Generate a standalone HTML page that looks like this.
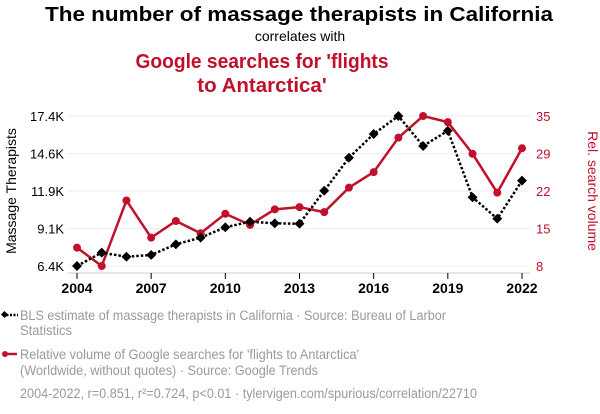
<!DOCTYPE html>
<html><head><meta charset="utf-8"><style>
body{margin:0;background:#fff;}
svg{display:block;font-family:"Liberation Sans",Arial,sans-serif;}
</style></head><body>
<svg id="chart" width="600" height="414" viewBox="0 0 600 414">
<text x="299" y="21" text-anchor="middle" font-size="20.5" font-weight="bold" textLength="508" lengthAdjust="spacingAndGlyphs">The number of massage therapists in California</text>
<text x="300" y="41" text-anchor="middle" font-size="14">correlates with</text>
<text x="262" y="68" text-anchor="middle" font-size="20.5" font-weight="bold" fill="#c0102c" textLength="253" lengthAdjust="spacingAndGlyphs">Google searches for 'flights</text>
<text x="262" y="92" text-anchor="middle" font-size="20.5" font-weight="bold" fill="#c0102c">to Antarctica'</text>
<g id="grid"></g><g id="axes"></g><g id="series"></g>
<text transform="translate(16,191) rotate(-90)" text-anchor="middle" font-size="14">Massage Therapists</text>
<text transform="translate(588,191) rotate(90)" text-anchor="middle" font-size="14" fill="#c0102c">Rel. search volume</text>
<g>
<line x1="3" y1="315" x2="18" y2="315" stroke="#000" stroke-width="2.5" stroke-dasharray="2,1.5"/>
<rect x="2" y="312" width="5" height="5" transform="rotate(45 4.5 314.5)" fill="#000"/>
<text x="20" y="320" font-size="13.5" fill="#9a9a9a" textLength="426" lengthAdjust="spacingAndGlyphs">BLS estimate of massage therapists in California · Source: Bureau of Larbor</text>
<text x="20" y="335" font-size="13.5" fill="#9a9a9a" textLength="52" lengthAdjust="spacingAndGlyphs">Statistics</text>
</g>
<g>
<line x1="3" y1="354" x2="17" y2="354" stroke="#c0102c" stroke-width="2.5"/>
<circle cx="5" cy="354" r="3" fill="#c0102c"/>
<text x="20" y="359" font-size="13.5" fill="#9a9a9a" textLength="339" lengthAdjust="spacingAndGlyphs">Relative volume of Google searches for 'flights to Antarctica'</text>
<text x="20" y="375" font-size="13.5" fill="#9a9a9a" textLength="298" lengthAdjust="spacingAndGlyphs">(Worldwide, without quotes) · Source: Google Trends</text>
</g>
<text x="20" y="398" font-size="13.5" fill="#9a9a9a" textLength="457" lengthAdjust="spacingAndGlyphs">2004-2022, r=0.851, r²=0.724, p&lt;0.01 · tylervigen.com/spurious/correlation/22710</text>
</svg>
<script>
const years=[2004,2005,2006,2007,2008,2009,2010,2011,2012,2013,2014,2015,2016,2017,2018,2019,2020,2021,2022];
const therapists=[6400,7380,7080,7210,7990,8480,9240,9650,9530,9500,11920,14340,16080,17400,15200,16320,11440,9870,12660];
const searches=[11.3,8,19.8,13.1,16.1,13.9,17.4,15.4,18.2,18.6,17.7,22.1,24.9,31.1,35,33.9,28.2,21.2,29.2];
const leftTicks=[6400,9150,11900,14650,17400];
const leftTickLabels=["6.4K","9.1K","11.9K","14.6K","17.4K"];
const rightTicks=[8,14.75,21.5,28.25,35];
const rightTickLabels=["8","15","22","29","35"];
const xTicks=[2004,2007,2010,2013,2016,2019,2022];
const NS="http://www.w3.org/2000/svg";
const X0=77,X1=522,YT=116,YB=266;
const x=v=>X0+(v-2004)/(2022-2004)*(X1-X0);
const yl=v=>YB-(v-6400)/(17400-6400)*(YB-YT);
const yr=v=>YB-(v-8)/(35-8)*(YB-YT);
function mk(tag,attrs,parent){const e=document.createElementNS(NS,tag);for(const k in attrs)e.setAttribute(k,attrs[k]);document.getElementById(parent).appendChild(e);return e;}
leftTicks.forEach((t,i)=>{
  const g=mk('line',{x1:68,x2:530,y1:yl(t),y2:yl(t),stroke:'#eee','stroke-width':1},'grid');
  
  
  const a=mk('text',{x:64,y:yl(t)+5,'text-anchor':'end','font-size':13},'axes');a.textContent=leftTickLabels[i];
  
  
});
rightTicks.forEach((t,i)=>{
  const a=mk('text',{x:536,y:yr(t)+5,'font-size':13,fill:'#c0102c'},'axes');a.textContent=rightTickLabels[i];
  
  
});
const ax=mk('line',{x1:68,x2:530,y1:273,y2:273,stroke:'#ccc'},'axes');


xTicks.forEach(t=>{
  const tk=mk('line',{x1:x(t),x2:x(t),y1:273,y2:279,stroke:'#000'},'axes');
  
  
  const a=mk('text',{x:x(t),y:293,'text-anchor':'middle','font-size':14,'font-weight':'bold'},'axes');a.textContent=t;
  
  
});
const rl=mk('polyline',{points:years.map((y,i)=>x(y)+','+yr(searches[i])).join(' '),fill:'none',stroke:'#c0102c','stroke-width':2.5},'series');


years.forEach((y,i)=>{
  const c=mk('circle',{cx:x(y),cy:yr(searches[i]),r:4,fill:'#c0102c'},'series');
  
  
});
const bl=mk('polyline',{points:years.map((y,i)=>x(y)+','+yl(therapists[i])).join(' '),fill:'none',stroke:'#000','stroke-width':2.5,'stroke-dasharray':'2.5,2'},'series');


years.forEach((y,i)=>{
  const px=x(y),py=yl(therapists[i]);
  const d=mk('rect',{x:px-3.5,y:py-3.5,width:7,height:7,fill:'#000',transform:`rotate(45 ${px} ${py})`},'series');
  
  
});
</script>
</body></html>
